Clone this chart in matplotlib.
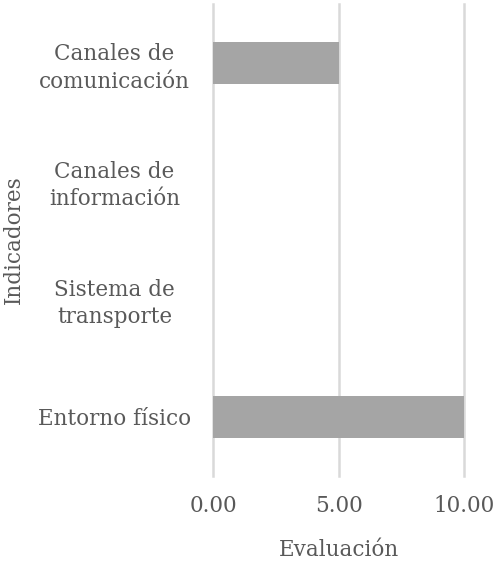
import matplotlib.pyplot as plt
import numpy as np

# ── Data ──────────────────────────────────────────────────────────────────────
categories = ["Canales de\ncomunicación", "Canales de\ninformación",
              "Sistema de\ntransporte", "Entorno físico"]
values = [5.0, 0.0, 0.0, 10.0]
xticks = [0, 5, 10]

TEXT = "#595959"
FS = 15.5
plt.rcParams["font.family"] = ["DejaVu Serif"]

fig = plt.figure(figsize=(4.99, 5.61), dpi=100)
ax = fig.add_axes([0.427, 0.152, 0.503, 0.841])

y = np.arange(len(categories))
ax.barh(y, values, height=0.36, color="#a5a5a5", zorder=3)
ax.set_ylim(len(categories) - 0.5, -0.5)
ax.set_xlim(0, 10)

ax.set_xticks(xticks)
ax.set_xticklabels([f"{v:.2f}" for v in xticks])
ax.set_yticks(y)
ax.set_yticklabels(categories, ha="center", multialignment="center",
                   linespacing=1.3)

ax.tick_params(axis="y", length=0, pad=71, labelsize=FS, colors=TEXT)
ax.tick_params(axis="x", length=0, pad=14, labelsize=FS, colors=TEXT)
ax.xaxis.grid(True, color="#d9d9d9", linewidth=1.8, zorder=0)
for gl in ax.get_xgridlines():
    gl.set_clip_on(False)
for s in ax.spines.values():
    s.set_visible(False)

ax.set_xlabel("Evaluación", fontsize=FS, color=TEXT, labelpad=16)
ax.set_ylabel("Indicadores", fontsize=FS, color=TEXT)
ax.yaxis.set_label_coords(-0.75, 0.5)

fig.savefig("out.png", dpi=100)
